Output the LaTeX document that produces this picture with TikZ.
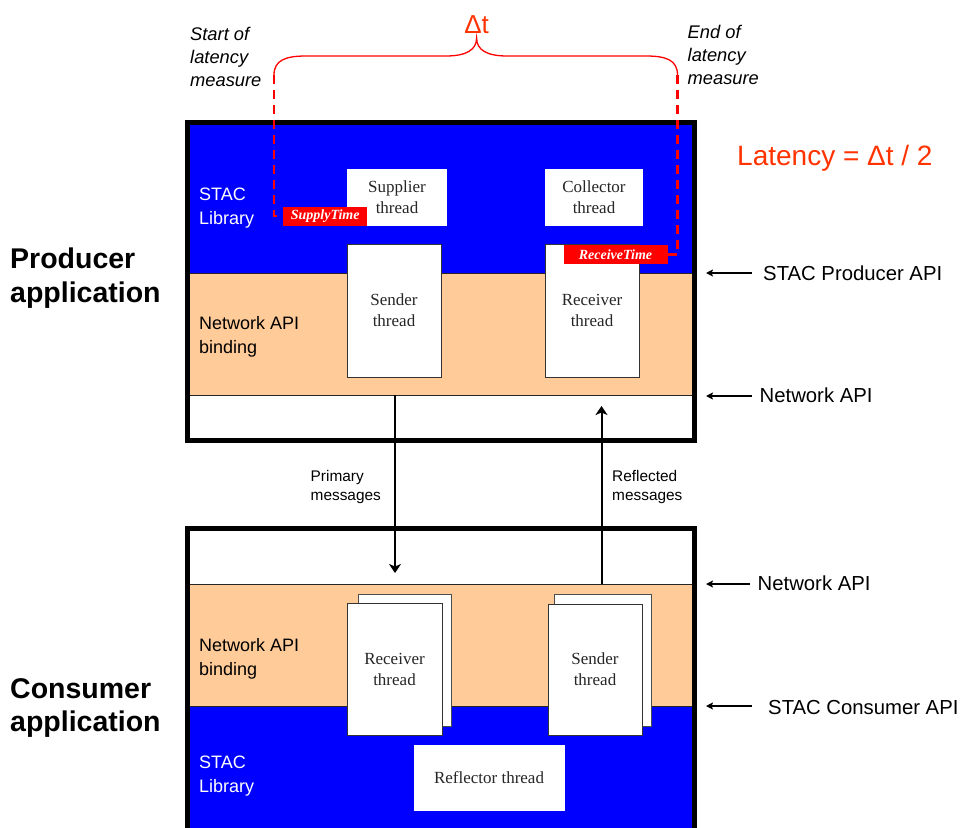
\documentclass[tikz,border=0pt]{standalone}
\usepackage{fontspec}
\setmainfont{Liberation Sans}
\newfontfamily\threadfont{Liberation Serif}
\usetikzlibrary{arrows.meta}
\definecolor{stacblue}{RGB}{0,0,255}
\definecolor{apiorange}{RGB}{255,204,153}
\definecolor{deltared}{RGB}{255,51,0}
\definecolor{tagred}{RGB}{255,0,0}
\begin{document}
\begin{tikzpicture}[x=1pt,y=-1pt,
  layerlbl/.style={inner sep=0, align=left, font=\fontsize{18}{23.5}\selectfont},
  applbl/.style={inner sep=0, align=left, font=\bfseries\fontsize{28.5}{33.5}\selectfont},
  measurelbl/.style={inner sep=0, align=left, font=\itshape\fontsize{18.3}{23}\selectfont},
  apilbl/.style={inner sep=0, anchor=base west, font=\fontsize{20.3}{24}\selectfont},
  msglbl/.style={inner sep=0, align=left, font=\fontsize{15.4}{18.3}\selectfont},
  thrbox/.style={inner sep=0, align=center, fill=white, text=black!85,
     font=\threadfont\fontsize{17}{21}\selectfont},
  thrframe/.style={thrbox, draw=black!80, line width=1pt},
  backframe/.style={draw=black!70, line width=1pt, fill=white},
  timetag/.style={inner sep=0, fill=tagred, text=white,
     font=\threadfont\bfseries\itshape\fontsize{14}{16}\selectfont},
  dashline/.style={draw=tagred, line width=2.3pt, dash pattern=on 9pt off 6pt},
  bracestyle/.style={draw=tagred, line width=1.3pt},
  msgarrow/.style={draw=black, line width=2pt, -{Stealth[length=9pt,width=12pt,inset=2.5pt]}},
  apiarrow/.style={draw=black, line width=1.3pt, -{Stealth[length=7pt,width=7pt,inset=1.5pt]}},
  sep/.style={draw=black!85, line width=0.9pt},
  frame/.style={draw=black, line width=5pt}
]
\useasboundingbox (0,0) rectangle (963,827);

% ---------------- producer layers
\fill[stacblue] (187,122) rectangle (694,273);
\fill[apiorange] (187,273) rectangle (694,395);
\fill[white] (187,395) rectangle (694,440.5);
\draw[sep] (187,273) -- (694,273);
\draw[sep] (187,395) -- (694,395);

% ---------------- consumer layers
\fill[white] (187,528) rectangle (694,584);
\fill[apiorange] (187,584) rectangle (694,706);
\fill[stacblue] (187,706) rectangle (694,840);
\draw[sep] (187,584) -- (694,584);
\draw[sep] (187,706) -- (694,706);

% ---------------- layer labels
\node[layerlbl, text=white, anchor=west] (pstac) at (199,208) {STAC\\Library};
\node[layerlbl, anchor=west] (pnet) at (199,337) {Network API\\binding};
\node[layerlbl, anchor=west] (cnet) at (199,659) {Network API\\binding};
\node[layerlbl, text=white, anchor=west] (cstac) at (199,776) {STAC\\Library};

% ---------------- producer threads
\node[thrbox, minimum width=100pt, minimum height=57pt] (supplier) at (397,197.5) {Supplier\\thread};
\node[thrbox, minimum width=98pt, minimum height=57pt] (collector) at (594,197.5) {Collector\\thread};
\node[thrframe, minimum width=94pt, minimum height=133pt] (psender) at (394,310.5) {Sender\\thread};
\node[thrframe, minimum width=94pt, minimum height=133pt] (preceiver) at (592,310.5) {Receiver\\thread};

% time tags
\node[timetag, minimum width=84.5pt, minimum height=19pt] (supplytime) at (325.2,216.2) {SupplyTime};
\node[timetag, minimum width=104pt, minimum height=19pt] (receivetime) at (615.5,254.5) {ReceiveTime};

% ---------------- consumer threads
\node[backframe, minimum width=93pt, minimum height=132pt] (crecvback) at (404.5,660) {};
\node[thrframe, minimum width=95pt, minimum height=132pt] (creceiver) at (394.5,669) {Receiver\\thread};
\node[backframe, minimum width=97pt, minimum height=132pt] (csendback) at (602.5,660) {};
\node[thrframe, minimum width=94pt, minimum height=131pt] (csender) at (595,669.5) {Sender\\thread};
\node[thrbox, minimum width=151pt, minimum height=66pt] (reflector) at (489,778) {Reflector thread};

% ---------------- frames
\draw[frame] (187,122) rectangle (694,440.5);
\draw[frame] (187,850) -- (187,528) -- (694,528) -- (694,850);

% ---------------- message arrows
\coordinate (prodNetL) at (395,395);
\coordinate (consPrimTip) at (395,573);
\coordinate (consNetR) at (601.5,584);
\coordinate (prodReflTip) at (601.5,406);
\draw[msgarrow] (prodNetL) -- (consPrimTip);
\draw[msgarrow] (consNetR) -- (prodReflTip);
\node[msglbl, anchor=west] (primlbl) at (310.5,487) {Primary\\messages};
\node[msglbl, anchor=west] (refllbl) at (612,487) {Reflected\\messages};

% ---------------- application labels
\node[applbl, anchor=west] (prodapp) at (10,278) {Producer\\application};
\node[applbl, anchor=west] (consapp) at (10,708) {Consumer\\application};

% ---------------- API labels and arrows
\node[apilbl] (spapi) at (763,280) {STAC Producer API};
\node[apilbl] (pnapi) at (759.5,402.7) {Network API};
\node[apilbl] (cnapi) at (757.5,590.7) {Network API};
\node[apilbl] (scapi) at (768,714) {STAC Consumer API};
\coordinate (spTip) at (706,273);
\coordinate (pnTip) at (706,396);
\coordinate (cnTip) at (706,584);
\coordinate (scTip) at (706,706);
\draw[apiarrow, shorten <=11pt] (spapi.west |- spTip) -- (spTip);
\draw[apiarrow, shorten <=8pt] (pnapi.west |- pnTip) -- (pnTip);
\draw[apiarrow, shorten <=8pt] (cnapi.west |- cnTip) -- (cnTip);
\draw[apiarrow, shorten <=16pt] (scapi.west |- scTip) -- (scTip);

% ---------------- latency measure
\coordinate (brL) at (274,75);
\coordinate (brR) at (677.5,75);
\draw[bracestyle] (brL) .. controls (274,60) and (286,56) .. (306,56)
  -- (446,56) .. controls (466,56) and (476.6,50) .. (476.6,38)
  .. controls (476.6,50) and (487,56) .. (507,56)
  -- (646,56) .. controls (666,56) and (677.5,60) .. (brR);
\draw[dashline] (brL) |- (supplytime.west);
\draw[dashline] (brR) |- (receivetime.east);
\node[inner sep=0, anchor=base, text=deltared, font=\fontsize{26}{30}\selectfont] (dt) at (476.6,33) {Δt};
\node[measurelbl, anchor=west] (startlbl) at (190,57.4) {Start of\\latency\\measure};
\node[measurelbl, anchor=west] (endlbl) at (687.5,54.5) {End of\\latency\\measure};
\node[inner sep=0, anchor=base west, text=deltared, font=\fontsize{28}{32}\selectfont] (latency) at (737,165) {Latency = Δt / 2};
\end{tikzpicture}
\end{document}
